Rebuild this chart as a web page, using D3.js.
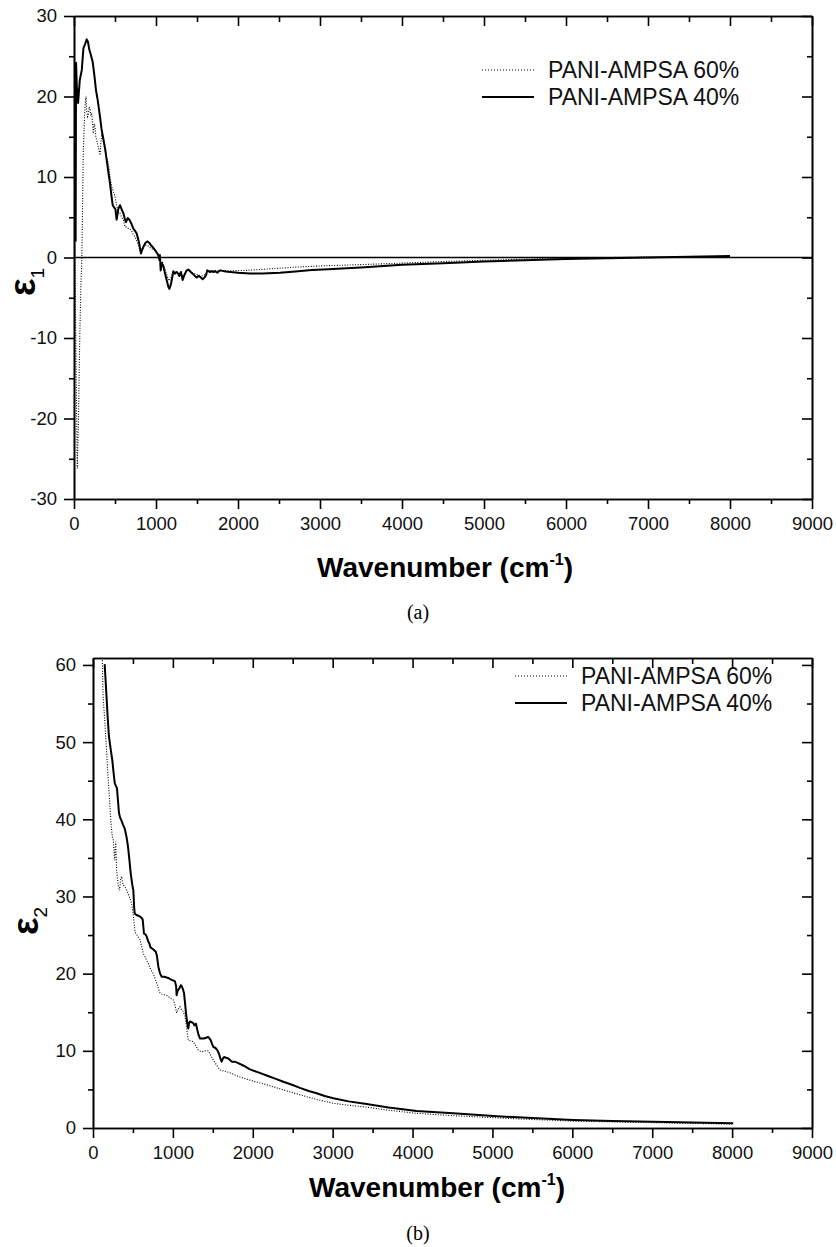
<!DOCTYPE html>
<html>
<head>
<meta charset="utf-8">
<script src="https://cdn.jsdelivr.net/npm/d3@7"></script>
<style>
  body { margin: 0; background: #fff; }
  svg { display: block; }
</style>
</head>
<body>
<div id="chart"></div>
<script>
// [wavenumber, value] pairs
const eps1_60 = [
  [12,2.0],[20,-8],[30,-18],[40,-26.2],[50,-22],[55,-20],[70,-10],[85,-3],[93,-1.1],[100,3],[113,13],[125,16.5],
  [134,18.7],[146,20.0],[155,18.3],[165,17.5],[175,17.7],[185,18.7],[195,18.5],[205,17.6],[216,17.8],[226,16.8],
  [236,15.4],[246,16.6],[256,16.2],[266,15.0],[277,14.6],[290,14.0],[305,13.3],[317,12.7],[328,14.2],[338,15.4],
  [355,14.5],[378,13.4],[398,12.3],[418,11.7],[440,10.0],[460,8.8],[480,8.2],[500,7.6],[520,6.5],[540,5.5],
  [560,5.5],[580,5.0],[602,4.7],[622,3.8],[642,3.8],[662,3.6],[700,3.4],[720,2.9],[744,2.6],[775,1.8],[805,0.9],
  [830,1.1],[860,1.5],[886,1.55],[910,1.4],[940,1.1],[988,0.9],[1020,0.4],[1049,0.0],[1060,-0.8],[1080,-0.6],
  [1110,-1.4],[1140,-2.4],[1160,-2.9],[1180,-2.6],[1210,-1.8],[1250,-1.8],[1290,-2.0],[1330,-2.4],[1370,-1.6],
  [1420,-1.7],[1470,-2.0],[1520,-2.2],[1570,-2.3],[1610,-2.0],[1640,-1.6],[1700,-1.7],[1780,-1.6],[1900,-1.65],
  [2100,-1.6],[2400,-1.4],[2700,-1.2],[3000,-1.05],[3300,-0.95],[3730,-0.8],[4000,-0.7],[4500,-0.5],[5000,-0.35],
  [5500,-0.2],[6000,-0.1],[6500,0.0],[7000,0.05],[7500,0.1],[8000,0.15]
];
const eps1_40 = [
  [20,2.0],[25,24.2],[35,21],[50,19.2],[70,22],[95,23.3],[115,26.0],[135,26.5],[155,27.1],[170,26.8],[187,25.8],
  [205,25.2],[228,24.3],[250,22.5],[268,20.8],[290,19.5],[317,17.5],[335,16.0],[357,14.8],[380,13.5],[399,12.1],
  [420,10.5],[439,9.2],[455,7.8],[472,6.5],[490,6.2],[505,6.0],[520,4.7],[540,6.0],[561,6.5],[580,6.0],[602,5.5],
  [620,4.8],[634,4.4],[655,4.9],[675,4.7],[700,4.2],[723,3.6],[745,3.3],[764,3.0],[790,2.0],[817,0.5],[830,0.9],
  [845,1.3],[870,1.8],[894,2.0],[920,1.8],[940,1.5],[960,1.3],[990,0.9],[1016,0.5],[1035,0.1],[1040,-0.3],
  [1047,0.3],[1050,-0.2],[1057,-1.6],[1070,-0.7],[1090,-1.1],[1110,-2.0],[1130,-2.8],[1150,-3.6],[1163,-3.9],
  [1180,-3.4],[1192,-2.8],[1211,-1.7],[1230,-2.0],[1252,-1.8],[1270,-2.0],[1284,-2.3],[1304,-1.8],[1325,-2.8],
  [1345,-2.2],[1374,-1.6],[1395,-1.5],[1415,-1.7],[1455,-2.1],[1475,-2.3],[1496,-2.5],[1515,-2.3],[1537,-2.4],
  [1569,-2.7],[1590,-2.5],[1610,-2.2],[1625,-1.6],[1638,-1.7],[1660,-1.8],[1680,-1.7],[1700,-1.8],[1720,-1.7],
  [1748,-1.9],[1780,-1.6],[1850,-1.75],[1906,-1.8],[2000,-1.9],[2146,-2.0],[2300,-2.0],[2512,-1.9],[2700,-1.75],
  [2900,-1.55],[3100,-1.45],[3325,-1.35],[3500,-1.25],[3730,-1.1],[4000,-0.9],[4500,-0.7],[5000,-0.5],
  [5500,-0.35],[6000,-0.2],[6500,-0.08],[7000,0.0],[7500,0.1],[8000,0.2]
];
const eps2_60 = [
  [117,60.6],[125,56.3],[146,52.9],[167,49.4],[188,45.5],[209,42.1],[229,39.0],[245,37.5],[254,37.3],[262,36.0],
  [272,34.7],[284,37.1],[295,33.5],[317,31.3],[334,30.8],[345,32.2],[359,32.6],[375,31.5],[397,31.3],[422,30.8],
  [438,30.4],[460,29.8],[484,29.1],[505,27.5],[526,25.4],[550,25.0],[588,24.4],[610,23.5],[630,22.6],[660,22.0],
  [692,21.3],[720,20.6],[755,20.0],[775,19.4],[797,18.8],[818,18.1],[839,17.5],[870,17.3],[922,17.2],[960,16.9],
  [1005,16.6],[1025,16.0],[1047,14.9],[1065,15.4],[1089,15.7],[1110,15.3],[1130,15.1],[1150,14.5],[1164,13.6],
  [1180,12.3],[1193,11.4],[1220,11.3],[1255,11.2],[1290,10.6],[1318,10.1],[1350,9.9],[1380,9.9],[1410,10.0],
  [1443,10.0],[1475,9.4],[1506,8.8],[1550,8.1],[1589,7.5],[1630,7.4],[1673,7.3],[1750,7.0],[1840,6.6],[2000,6.1],
  [2174,5.6],[2380,4.95],[2591,4.3],[2800,3.7],[3008,3.2],[3200,2.95],[3425,2.7],[3700,2.3],[4051,1.9],[4500,1.6],
  [5000,1.35],[5500,1.1],[6000,0.9],[6500,0.8],[7000,0.7],[7500,0.6],[8000,0.5]
];
const eps2_40 = [
  [146,60.1],[155,58.5],[167,56.3],[185,53.0],[200,50.7],[220,49.2],[241,47.7],[258,46.0],[272,44.7],[288,44.3],
  [300,44.0],[312,42.5],[325,40.8],[340,40.2],[354,39.9],[375,39.3],[397,38.8],[418,37.8],[438,36.5],[455,34.8],
  [472,33.0],[492,31.5],[505,30.8],[515,28.6],[522,27.8],[545,27.6],[568,27.5],[588,27.4],[610,27.2],[622,27.0],
  [638,25.2],[655,25.1],[672,24.8],[690,24.2],[705,23.9],[720,23.4],[734,23.3],[760,23.1],[788,22.8],[800,22.3],
  [818,20.9],[840,20.0],[860,19.6],[890,19.6],[922,19.5],[950,19.4],[985,19.2],[1010,19.1],[1026,19.0],
  [1040,18.4],[1047,17.2],[1060,17.8],[1081,18.1],[1100,18.5],[1110,18.4],[1125,18.0],[1139,17.5],[1150,16.4],
  [1164,14.9],[1180,13.6],[1193,12.9],[1203,13.6],[1214,13.8],[1235,13.7],[1255,13.6],[1270,13.3],[1289,13.5],
  [1306,12.7],[1320,12.1],[1339,11.6],[1365,11.6],[1389,11.6],[1415,11.7],[1443,11.8],[1473,11.4],[1490,10.9],
  [1506,10.5],[1530,10.4],[1548,10.2],[1565,9.9],[1581,9.5],[1595,9.0],[1611,8.6],[1625,9.0],[1640,9.2],
  [1665,9.1],[1694,9.0],[1715,8.8],[1736,8.6],[1765,8.6],[1798,8.5],[1880,8.1],[1965,7.6],[2070,7.2],[2174,6.8],
  [2280,6.4],[2382,6.0],[2490,5.6],[2591,5.2],[2700,4.8],[2800,4.5],[2900,4.15],[3008,3.85],[3200,3.45],
  [3425,3.1],[3700,2.65],[4051,2.2],[4509,1.9],[5010,1.55],[5500,1.28],[6011,1.04],[6500,0.92],[7012,0.82],
  [7500,0.7],[8014,0.6]
];

const legendLabels = ["PANI-AMPSA 60%", "PANI-AMPSA 40%"];
const xTicks = [0,1000,2000,3000,4000,5000,6000,7000,8000,9000];
const xMinorTicks = [500,1500,2500,3500,4500,5500,6500,7500,8500];
const eps1Ticks = [-30,-20,-10,0,10,20,30];
const eps1MinorTicks = [-25,-15,-5,5,15,25];
const eps2Ticks = [0,10,20,30,40,50,60];
const eps2MinorTicks = [5,15,25,35,45,55];

const W = 836, H = 1247;
const sans = "'Liberation Sans', Arial, Helvetica, sans-serif";
const svg = d3.select("#chart").append("svg").attr("width", W).attr("height", H);

// plain hyphen for negatives, like the original figure
const plainNum = d => String(d);

function styleAxis(g) {
    g.selectAll("path").attr("stroke", "#000").attr("stroke-width", 1.6);
    g.selectAll("line").attr("stroke", "#000").attr("stroke-width", 1.6);
    g.selectAll("text").attr("font-family", sans).attr("font-size", 18.5).attr("fill", "#111");
}

function drawPanel(p) {
    const x = d3.scaleLinear().domain([0, 9000]).range([p.left, p.right]);
    const y = d3.scaleLinear().domain(p.yDomain).range([p.bottom, p.top]);

    const clipId = p.id + "-clip";
    svg.append("clipPath").attr("id", clipId).append("rect")
        .attr("x", p.left).attr("y", p.top).attr("width", p.right - p.left).attr("height", p.bottom - p.top);

    const g = svg.append("g");

    // minor ticks first, then major axes (these also draw the frame)
    g.append("g").attr("transform", `translate(0,${p.bottom})`)
        .call(d3.axisBottom(x).tickValues(xMinorTicks).tickSize(5).tickSizeOuter(0).tickFormat("")).call(styleAxis);
    g.append("g").attr("transform", `translate(0,${p.top})`)
        .call(d3.axisTop(x).tickValues(xMinorTicks).tickSize(-6).tickSizeOuter(0).tickFormat("")).call(styleAxis);
    g.append("g").attr("transform", `translate(${p.left},0)`)
        .call(d3.axisLeft(y).tickValues(p.yMinor).tickSize(5).tickSizeOuter(0).tickFormat("")).call(styleAxis);
    g.append("g").attr("transform", `translate(${p.right},0)`)
        .call(d3.axisRight(y).tickValues(p.yMinor).tickSize(-5).tickSizeOuter(0).tickFormat("")).call(styleAxis);

    g.append("g").attr("transform", `translate(0,${p.bottom})`)
        .call(d3.axisBottom(x).tickValues(xTicks).tickSize(10).tickSizeOuter(0).tickPadding(8).tickFormat(plainNum))
        .call(styleAxis);
    g.append("g").attr("transform", `translate(0,${p.top})`)
        .call(d3.axisTop(x).tickValues(xTicks).tickSize(-10).tickSizeOuter(0).tickFormat("")).call(styleAxis);
    g.append("g").attr("transform", `translate(${p.left},0)`)
        .call(d3.axisLeft(y).tickValues(p.yTicks).tickSize(10).tickSizeOuter(0).tickPadding(7).tickFormat(plainNum))
        .call(styleAxis);
    g.append("g").attr("transform", `translate(${p.right},0)`)
        .call(d3.axisRight(y).tickValues(p.yTicks).tickSize(-10).tickSizeOuter(0).tickFormat("")).call(styleAxis);

    if (p.zeroLine) {
        g.append("line")
            .attr("x1", p.left).attr("x2", p.right)
            .attr("y1", y(0)).attr("y2", y(0))
            .attr("stroke", "#000").attr("stroke-width", 1.6);
    }

    const line = d3.line().x(d => x(d[0])).y(d => y(d[1]));
    const plot = g.append("g").attr("clip-path", `url(#${clipId})`);
    plot.append("path").datum(p.dotted).attr("d", line)
        .attr("fill", "none").attr("stroke", "#000").attr("stroke-width", 1.1).attr("stroke-dasharray", "1,1.6");
    plot.append("path").datum(p.solid).attr("d", line)
        .attr("fill", "none").attr("stroke", "#000").attr("stroke-width", 2).attr("stroke-linejoin", "round");

    // legend
    legendLabels.forEach((lab, i) => {
        const ly = p.legendY + i * 27;
        g.append("line")
            .attr("x1", p.legendX).attr("x2", p.legendX + 52)
            .attr("y1", ly - 8).attr("y2", ly - 8)
            .attr("stroke", "#000")
            .attr("stroke-width", i === 0 ? 1.1 : 2)
            .attr("stroke-dasharray", i === 0 ? "1,2" : null);
        g.append("text")
            .attr("x", p.legendX + 66).attr("y", ly)
            .attr("font-family", sans).attr("font-size", 23).attr("fill", "#111")
            .text(lab);
    });

    // y label: epsilon with subscript
    const yl = g.append("text")
        .attr("transform", `translate(${p.yLabelX},${p.yLabelY}) rotate(-90)`)
        .attr("font-family", sans).attr("font-weight", "bold").attr("fill", "#000");
    yl.append("tspan").attr("font-size", 37).text("ε");
    yl.append("tspan").attr("font-size", 19).attr("font-weight", "normal").attr("dy", 9).text(p.sub);

    // x label
    const xl = g.append("text")
        .attr("x", p.titleX).attr("y", p.titleY)
        .attr("text-anchor", "middle")
        .attr("font-family", sans).attr("font-weight", "bold").attr("font-size", 28).attr("fill", "#000");
    xl.append("tspan").text("Wavenumber (cm");
    xl.append("tspan").attr("font-size", 16).attr("dy", -12).text("-1");
    xl.append("tspan").attr("dy", 12).text(")");

    // panel tag
    g.append("text")
        .attr("x", p.tagX).attr("y", p.tagY)
        .attr("text-anchor", "middle")
        .attr("font-family", "'Liberation Serif', 'Times New Roman', serif").attr("font-size", 20).attr("fill", "#000")
        .text(p.tag);
}

drawPanel({
    id: "a", left: 74, right: 812, top: 16, bottom: 499,
    yDomain: [-30, 30], yTicks: eps1Ticks, yMinor: eps1MinorTicks,
    dotted: eps1_60, solid: eps1_40, zeroLine: true,
    legendX: 482, legendY: 78,
    sub: "1", yLabelX: 35, yLabelY: 296,
    titleX: 445, titleY: 577, tag: "(a)", tagX: 418, tagY: 619
});

drawPanel({
    id: "b", left: 93, right: 812, top: 658, bottom: 1128,
    yDomain: [0, 60.9], yTicks: eps2Ticks, yMinor: eps2MinorTicks,
    dotted: eps2_60, solid: eps2_40, zeroLine: false,
    legendX: 515, legendY: 684,
    sub: "2", yLabelX: 38, yLabelY: 935,
    titleX: 437, titleY: 1197, tag: "(b)", tagX: 418, tagY: 1240
});
</script>
</body>
</html>
